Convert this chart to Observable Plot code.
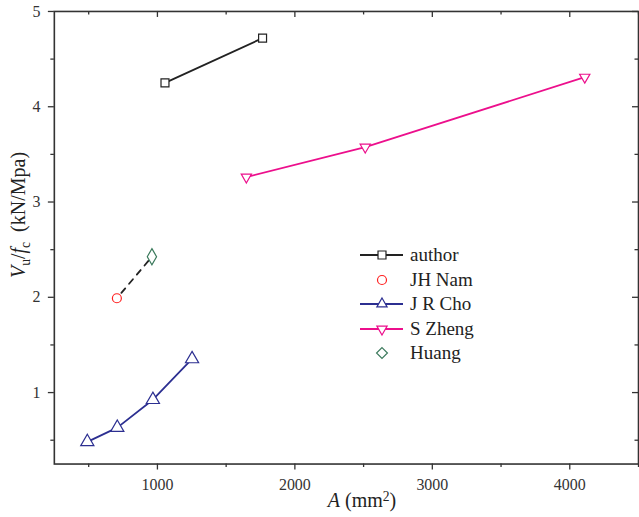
<!DOCTYPE html>
<html><head><meta charset="utf-8">
<script src="https://cdn.jsdelivr.net/npm/d3@7"></script>
<script src="https://cdn.jsdelivr.net/npm/@observablehq/plot@0.6"></script>
<style>
html,body{margin:0;padding:0;background:#fff;overflow:hidden}
#wrap{position:relative;width:639px;height:517px;overflow:hidden;font-family:"Liberation Serif","Times New Roman",serif;color:#222}
#wrap svg.plot{position:absolute;left:0;top:0}
#wrap svg.plot text{font-family:"Liberation Serif","Times New Roman",serif !important}
.ytitle{position:absolute;left:18px;top:215px;transform:translate(-50%,-50%) rotate(-90deg);white-space:nowrap;font-size:20px;line-height:1}
.xtitle{position:absolute;left:362px;top:500px;transform:translate(-50%,-50%);white-space:nowrap;font-size:20px;line-height:1}
.sub{font-size:0.68em;position:relative;top:0.35em}
.sup{font-size:0.68em;position:relative;top:-0.45em}
.legend{position:absolute;left:358px;top:243px;font-size:19px}
.legend .row{display:flex;align-items:center;height:24.5px}
.legend svg{display:block;margin-right:6px}
</style></head><body><div id="wrap"></div>
<script>
// ---- data ----
const seriesNames = ["author", "JH Nam", "J R Cho", "S Zheng", "Huang"];
const seriesColors = ["#222222", "#ff2020", "#2c2f91", "#ec0f8c", "#3b7a5c"];
const authorA = [1055, 1765];
const authorV = [4.25, 4.72];
const namA = [705];
const namV = [1.99];
const choA = [490, 708, 967, 1252];
const choV = [0.483, 0.632, 0.925, 1.353];
const zhengA = [1647, 2512, 4109];
const zhengV = [3.262, 3.576, 4.31];
const huangA = [960];
const huangV = [2.426];
const xMajor = [1000, 2000, 3000, 4000];
const xMinor = [500, 1500, 2500, 3500, 4500];
const yMajor = [1, 2, 3, 4, 5];
const yMinor = [0.5, 1.5, 2.5, 3.5, 4.5];

// dashed link between JH Nam and Huang
const linkA = namA.concat(huangA);
const linkV = namV.concat(huangV);

const triangleDown = {
  draw(ctx, size) {
    const s = Math.sqrt(size) * 0.6824, t = s / 2, u = s * Math.sqrt(3) / 2;
    ctx.moveTo(0, s); ctx.lineTo(u, -t); ctx.lineTo(-u, -t); ctx.closePath();
  }
};
const symbols = ["square", "circle", "triangle", triangleDown, "diamond"];
const radii = [4.5, 4.5, 4.9, 4.9, 4.9];

const axisColor = "#333";
const font = "Liberation Serif";

const [cAuth, cNam, cCho, cZheng, cHuang] = seriesColors;
const tk = {stroke: axisColor, strokeWidth: 1.3, label: null};

const plot = Plot.plot({
  width: 641, height: 517,
  marginLeft: 54, marginRight: 1, marginTop: 11, marginBottom: 52,
  x: {domain: [250, 4500]},
  y: {domain: [0.25, 5]},
  style: {fontFamily: font, fontSize: "16px", color: axisColor, background: "transparent"},
  marks: [
    // bottom axis
    Plot.axisX(xMajor, {...tk, anchor: "bottom", tickSize: 6, tickPadding: 9, tickFormat: d => String(d), fontSize: 16, fontFamily: font, fill: "#333"}),
    Plot.axisX(xMinor, {...tk, anchor: "bottom", tickSize: 3.5, tickFormat: () => ""}),
    // top axis (inward ticks)
    Plot.axisX(xMajor, {...tk, anchor: "bottom", frameAnchor: "top", tickSize: 6, tickFormat: () => ""}),
    Plot.axisX(xMinor, {...tk, anchor: "bottom", frameAnchor: "top", tickSize: 3.5, tickFormat: () => ""}),
    // left axis
    Plot.axisY(yMajor, {...tk, anchor: "left", tickSize: 6, tickPadding: 8, tickFormat: d => String(d), fontSize: 16, fontFamily: font, fill: "#333"}),
    Plot.axisY(yMinor, {...tk, anchor: "left", tickSize: 3.5, tickFormat: () => ""}),
    // right axis (inward ticks)
    Plot.axisY(yMajor, {...tk, anchor: "left", frameAnchor: "right", tickSize: 6, tickFormat: () => ""}),
    Plot.axisY(yMinor, {...tk, anchor: "left", frameAnchor: "right", tickSize: 3.5, tickFormat: () => ""}),
    Plot.frame({stroke: axisColor, strokeWidth: 1.6}),
    // lines
    Plot.line(authorA, {x: authorA, y: authorV, stroke: cAuth, strokeWidth: 1.8}),
    Plot.line(linkA, {x: linkA, y: linkV, stroke: "#222", strokeWidth: 1.8, strokeDasharray: "6,6", strokeDashoffset: -7}),
    Plot.line(choA, {x: choA, y: choV, stroke: cCho, strokeWidth: 1.8}),
    Plot.line(zhengA, {x: zhengA, y: zhengV, stroke: cZheng, strokeWidth: 1.8}),
    // markers
    Plot.dot(authorA, {x: authorA, y: authorV, symbol: symbols[0], r: radii[0], stroke: cAuth, fill: "white", strokeWidth: 1.2}),
    Plot.dot(namA, {x: namA, y: namV, symbol: symbols[1], r: radii[1], stroke: cNam, fill: "white", strokeWidth: 1.2}),
    Plot.dot(choA, {x: choA, y: choV, symbol: symbols[2], r: radii[2], stroke: cCho, fill: "white", strokeWidth: 1.2}),
    Plot.dot(zhengA, {x: zhengA, y: zhengV, symbol: symbols[3], r: radii[3], stroke: cZheng, fill: "white", strokeWidth: 1.2}),
    Plot.dot(huangA, {x: huangA, y: huangV, symbol: symbols[4], r: radii[4], stroke: cHuang, fill: "white", strokeWidth: 1.2})
  ]
});
plot.classList.add("plot");
const wrap = document.getElementById("wrap");
wrap.appendChild(plot);

// axis titles
const yt = document.createElement("div");
yt.className = "ytitle";
yt.innerHTML = '<i>V</i><span class="sub">u</span>/<i>f</i><span class="sub">c</span>&nbsp; (kN/Mpa)';
wrap.appendChild(yt);
const xt = document.createElement("div");
xt.className = "xtitle";
xt.innerHTML = '<i>A</i> (mm<span class="sup">2</span>)';
wrap.appendChild(xt);

// legend
const lineSeries = [true, false, true, true, false];
const leg = document.createElement("div");
leg.className = "legend";
seriesNames.forEach((name, i) => {
  const row = document.createElement("div");
  row.className = "row";
  const svg = d3.create("svg").attr("width", 46).attr("height", 16);
  if (lineSeries[i]) svg.append("line").attr("x1", 2).attr("x2", 45).attr("y1", 8).attr("y2", 8).attr("stroke", seriesColors[i]).attr("stroke-width", 1.8);
  const symType = typeof symbols[i] === "string" ? ({square: d3.symbolSquare, circle: d3.symbolCircle, triangle: d3.symbolTriangle2, diamond: d3.symbolDiamond2})[symbols[i]] : symbols[i];
  svg.append("path").attr("transform", "translate(24,8)").attr("d", d3.symbol(symType, Math.PI * radii[i] * radii[i])())
    .attr("fill", "white").attr("stroke", seriesColors[i]).attr("stroke-width", 1.2);
  row.appendChild(svg.node());
  const t = document.createElement("span");
  t.textContent = name;
  row.appendChild(t);
  leg.appendChild(row);
});
wrap.appendChild(leg);
</script></body></html>
